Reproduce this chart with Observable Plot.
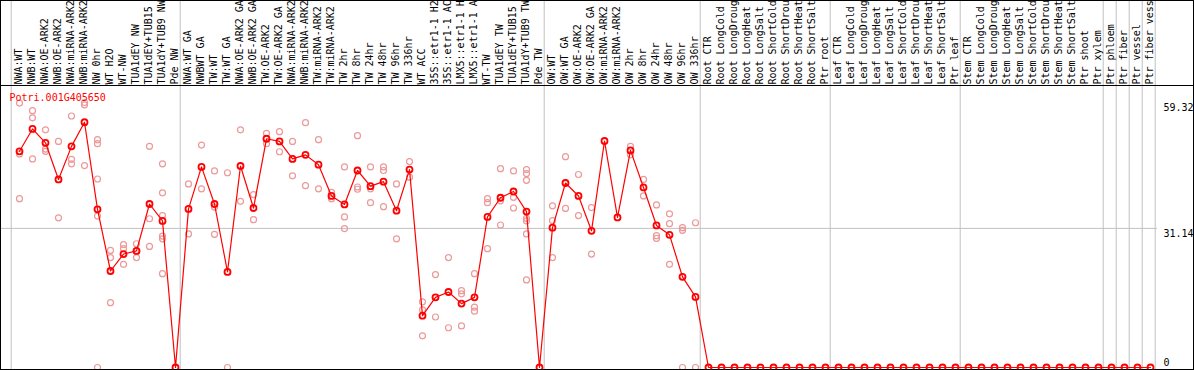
<!DOCTYPE html>
<html>
<head>
<meta charset="utf-8">
<script src="https://cdn.jsdelivr.net/npm/d3@7"></script>
<script src="https://cdn.jsdelivr.net/npm/@observablehq/plot@0.6"></script>
<style>
  body { margin: 0; background: #fff; }
  #chart svg { display: block; overflow: hidden; }
</style>
</head>
<body>
<div id="chart"></div>
<script>
const geneId = "Potri.001G405650";

const categories = [
  "NWA:WT","NWB:WT","NWA:OE-ARK2","NWB:OE-ARK2","NWA:miRNA-ARK2","NWB:miRNA-ARK2","NW 0hr","WT H2O","WT-NW",
  "TUA1dEY NW","TUA1dEY+TUB15 NW","TUA1dY+TUB9 NW","Pde NW",
  "NWA:WT GA","NWBWT GA","TW:WT","TW:WT GA","NWA:OE-ARK2 GA","NWB:OE-ARK2 GA","TW:OE-ARK2","TW:OE-ARK2 GA",
  "NWA:miRNA-ARK2 GA","NWB:miRNA-ARK2 GA","TW:miRNA-ARK2","TW:miRNA-ARK2 GA","TW 2hr","TW 8hr","TW 24hr","TW 48hr",
  "TW 96hr","TW 336hr","WT ACC","35S::etr1-1 H2O","35S::etr1-1 ACC","LMX5::etr1-1 H2O","LMX5::etr1-1 ACC","WT-TW",
  "TUA1dEY TW","TUA1dEY+TUB15 TW","TUA1dY+TUB9 TW","Pde TW",
  "OW:WT","OW:WT GA","OW:OE-ARK2","OW:OE-ARK2 GA","OW:miRNA-ARK2","OW:miRNA-ARK2 GA","OW 2hr","OW 8hr","OW 24hr",
  "OW 48hr","OW 96hr","OW 336hr",
  "Root CTR","Root LongCold","Root LongDrought","Root LongHeat","Root LongSalt","Root ShortCold","Root ShortDrought",
  "Root ShortHeat","Root ShortSalt","Ptr root",
  "Leaf CTR","Leaf LongCold","Leaf LongDrought","Leaf LongHeat","Leaf LongSalt","Leaf ShortCold","Leaf ShortDrought",
  "Leaf ShortHeat","Leaf ShortSalt","Ptr leaf",
  "Stem CTR","Stem LongCold","Stem LongDrought","Stem LongHeat","Stem LongSalt","Stem ShortCold","Stem ShortDrought",
  "Stem ShortHeat","Stem ShortSalt","Ptr shoot","Ptr xylem",
  "Ptr phloem","Ptr fiber","Ptr vessel","Ptr fiber vessel"
];

const means = [
  48.4, 53.4, 50.3, 42.1, 49.5, 54.9, 35.4, 21.6, 25.4, 26.1, 36.6, 32.8, 0,
  35.5, 44.9, 36.6, 21.4, 45.1, 35.7, 51.2, 50.6, 46.7, 47.6, 45.4, 38.4, 36.5, 44.1, 40.6, 41.6,
  35.1, 44.3, 11.6, 15.7, 16.9, 14.3, 15.7, 33.7, 38.0, 39.4, 34.9, 0,
  31.3, 41.3, 38.4, 30.6, 50.7, 33.6, 48.6, 40.3, 31.8, 29.7, 20.3, 15.8,
  0, 0, 0, 0, 0, 0, 0, 0, 0, 0,
  0, 0, 0, 0, 0, 0, 0, 0, 0, 0,
  0, 0, 0, 0, 0, 0, 0, 0, 0, 0, 0,
  0, 0, 0, 0
];

const replicates = [
  [59.2, 47.8, 37.8], [57.5, 55.9, 46.7], [53.2, 48.9, 48.4], [50.6, 33.5], [56.3, 46.6, 45.6],
  [59.32, 58.8, 45.2], [51.0, 50.1, 42.2, 33.9, 0], [26.2, 24.6, 14.5], [27.5, 26.6, 23.1], [27.7, 26.1, 24.6],
  [49.5, 33.3, 27.1], [45.6, 39.1, 34.0, 29.4, 28.8, 21.0], [],
  [41.1, 29.9], [49.8, 40.0], [44.0, 35.9, 29.8], [43.6, 0], [53.2, 37.2], [38.7, 33.1], [52.4, 50.1],
  [52.8, 48.3], [50.6, 42.9], [54.8, 40.7], [51.0, 40.0], [39.2, 37.8], [44.9, 33.7, 31.1], [51.9, 40.4, 39.9],
  [44.9, 40.0, 36.9], [44.9, 44.1, 36.0], [41.1, 28.8], [46.1, 42.6], [14.7, 12.9, 7.1], [20.8, 11.3],
  [24.6, 8.9], [17.2, 16.5, 9.3], [21.0, 13.5, 12.6], [37.8, 36.9, 26.6], [44.5, 37.3, 31.9], [44.0, 38.1, 35.7],
  [44.3, 43.4, 41.9, 33.4, 32.8, 29.9, 19.6], [],
  [36.2, 32.9, 24.6], [47.2, 35.6], [43.2, 34.0], [35.8, 25.4], [], [], [49.5, 47.6], [42.1, 38.4],
  [36.4, 29.5, 28.9], [34.4, 32.2, 23.1], [31.3, 30.7, 0], [32.4, 0]
];

const groupStarts = ["NWA:WT", "NWA:WT GA", "OW:WT", "Root CTR", "Leaf CTR", "Stem CTR",
                     "Ptr phloem", "Ptr fiber", "Ptr vessel", "Ptr fiber vessel"];
const groupEnds = ["Ptr fiber vessel"];
const yTickTop = [59.32, 31.14];
const yTickBottom = [0];
const gridValues = [31.14];

const meanRows = categories.map((c, i) => ({cat: c, v: means[i]}));
const repRows = replicates.flatMap((vals, i) => vals.map(v => ({cat: categories[i], v})));

const chart = Plot.plot({
  width: 1194,
  height: 370,
  margin: 0,
  style: {fontFamily: "DejaVu Sans Mono", fontSize: "10px", background: "white", overflow: "hidden"},
  x: {type: "point", domain: categories, range: [19.3, 1150.3], padding: 0, axis: null},
  y: {domain: [0, 59.32], range: [367, 102], axis: null},
  marks: [
    Plot.ruleX(groupStarts, {x: d => d, stroke: "#c0c0c0", dx: -8.3}),
    Plot.ruleX(groupEnds, {x: d => d, stroke: "#c0c0c0", dx: 4.7}),
    Plot.ruleY(gridValues, {y: d => d, stroke: "#c0c0c0", insetRight: 37}),
    Plot.dot(repRows, {x: "cat", y: "v", r: 3, stroke: "#ec9999", strokeWidth: 1.2}),
    Plot.line(meanRows, {x: "cat", y: "v", stroke: "#ff0000", strokeWidth: 1.2}),
    Plot.dot(meanRows, {x: "cat", y: "v", r: 3, stroke: "#ff0000", strokeWidth: 1.8}),
    Plot.frame({stroke: "black", insetRight: 1, insetBottom: 1}),
    Plot.frame({stroke: "black", insetTop: 85, insetRight: 1, insetBottom: 1}),
    Plot.text(categories, {x: d => d, text: d => d, frameAnchor: "top", dy: 84, dx: -1, rotate: -90,
      textAnchor: "start", lineAnchor: "middle", fill: "black"}),
    Plot.text([geneId], {text: d => d, frameAnchor: "top-left", dx: 9, dy: 97,
      textAnchor: "start", lineAnchor: "middle", fill: "#ff0000"}),
    Plot.text(yTickTop, {y: d => d, text: d => String(d), frameAnchor: "right", dx: -31, dy: 5,
      textAnchor: "start", lineAnchor: "middle", fill: "black"}),
    Plot.text(yTickBottom, {y: d => d, text: d => String(d), frameAnchor: "right", dx: -31, dy: -5,
      textAnchor: "start", lineAnchor: "middle", fill: "black"})
  ]
});
document.getElementById("chart").append(chart);
</script>
</body>
</html>
